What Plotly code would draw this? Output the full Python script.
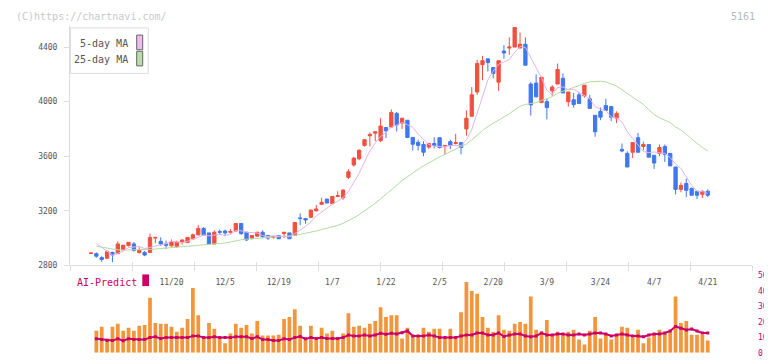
import plotly.graph_objects as go

# The page body has an 8px default margin, so the figure is drawn 8px in from the
# window's top-left corner; the figure is sized to fill the rest of the window.
PAGE_MARGIN = 8
WIN_W, WIN_H = 772, 361
W, H = WIN_W - PAGE_MARGIN, WIN_H - PAGE_MARGIN

# ---------------- data ----------------
opens = [2888, 2886, 2857, 2852, 2895, 2886, 2914, 2945, 2957, 2895,
         2895, 2895, 3000, 2976, 2957, 2943, 2938, 2971, 2967, 2995,
         3024, 3071, 3038, 2957, 3048, 3052, 3043, 3052, 3107, 3043,
         3000, 3014, 3043, 3019, 3005, 3019, 3033, 3038, 3019, 3148,
         3143, 3152, 3200, 3248, 3286, 3252, 3305, 3295, 3445, 3536,
         3581, 3679, 3750, 3769, 3714, 3810, 3814, 3914, 3843, 3864,
         3738, 3702, 3686, 3667, 3693, 3736, 3671, 3707, 3693, 3700,
         3800, 3893, 4071, 4271, 4314, 4250, 4143, 4371, 4393, 4400,
         4393, 4421, 4129, 4136, 3993, 4000, 4079, 4129, 4171, 4000,
         4014, 4050, 4043, 4021, 3900, 3929, 3971, 3964, 3879, 3650,
         3621, 3629, 3736, 3671, 3686, 3607, 3621, 3671, 3621, 3521,
         3357, 3400, 3364, 3343, 3321, 3343]
highs = [2891, 2895, 2867, 2910, 2900, 2976, 2948, 2969, 2971, 2933,
         2905, 3033, 3005, 3005, 2981, 2990, 2981, 2990, 3005, 3033,
         3095, 3081, 3038, 3057, 3062, 3062, 3067, 3107, 3107, 3043,
         3019, 3043, 3057, 3019, 3014, 3019, 3043, 3038, 3119, 3181,
         3148, 3210, 3243, 3295, 3286, 3305, 3343, 3357, 3505, 3595,
         3652, 3726, 3774, 3779, 3879, 3810, 3943, 3924, 3879, 3864,
         3738, 3721, 3710, 3693, 3738, 3736, 3679, 3721, 3764, 3700,
         3936, 4107, 4307, 4336, 4314, 4250, 4300, 4414, 4471, 4543,
         4507, 4471, 4143, 4200, 4179, 4021, 4121, 4279, 4207, 4071,
         4064, 4071, 4121, 4050, 3900, 3957, 4021, 3964, 3929, 3693,
         3636, 3700, 3771, 3707, 3686, 3607, 3686, 3686, 3621, 3521,
         3407, 3436, 3371, 3343, 3350, 3357]
lows = [2888, 2857, 2826, 2848, 2824, 2886, 2910, 2938, 2900, 2886,
        2867, 2895, 2962, 2943, 2919, 2938, 2929, 2952, 2967, 2986,
        3019, 3019, 2957, 2957, 3028, 3014, 3033, 3048, 3024, 2981,
        2990, 3010, 3000, 2986, 2995, 2995, 3000, 2995, 3019, 3095,
        3105, 3148, 3195, 3243, 3257, 3252, 3305, 3281, 3433, 3524,
        3571, 3671, 3671, 3710, 3705, 3733, 3810, 3781, 3800, 3733,
        3643, 3643, 3600, 3652, 3657, 3657, 3614, 3652, 3686, 3614,
        3750, 3893, 4050, 4157, 4221, 4171, 4079, 4314, 4343, 4400,
        4393, 4267, 3898, 4029, 3993, 3871, 4043, 4129, 4064, 3964,
        3957, 3986, 4029, 3950, 3743, 3864, 3936, 3857, 3843, 3629,
        3521, 3586, 3629, 3643, 3593, 3507, 3600, 3557, 3529, 3321,
        3336, 3300, 3314, 3286, 3293, 3300]
closes = [2891, 2867, 2843, 2900, 2876, 2957, 2948, 2969, 2910, 2910,
          2876, 3005, 3005, 2957, 2948, 2971, 2971, 2986, 3005, 3024,
          3071, 3024, 2957, 3043, 3043, 3038, 3048, 3107, 3033, 2986,
          3019, 3043, 3010, 3000, 3010, 2995, 3043, 2995, 3114, 3143,
          3133, 3205, 3214, 3262, 3257, 3305, 3310, 3352, 3486, 3586,
          3643, 3721, 3760, 3779, 3821, 3786, 3921, 3829, 3879, 3738,
          3688, 3679, 3629, 3693, 3679, 3664, 3679, 3679, 3700, 3664,
          3879, 4050, 4279, 4300, 4286, 4207, 4300, 4357, 4400, 4543,
          4421, 4267, 3976, 4036, 4179, 3957, 4107, 4236, 4064, 4071,
          3979, 3986, 4121, 3950, 3779, 3886, 3936, 3886, 3914, 3638,
          3521, 3700, 3629, 3686, 3593, 3550, 3664, 3614, 3529, 3357,
          3386, 3350, 3314, 3314, 3343, 3314]

# moving-average values before enough closes are on the chart
ma5_head = [2960, 2933, 2905]
ma25_head = [2940, 2933, 2926, 2919, 2914, 2912, 2912, 2912, 2913, 2915,
             2917, 2920, 2923, 2927, 2931, 2935, 2939, 2943, 2946, 2949,
             2952, 2954, 2956]

volume = [14.3, 16.8, 9.2, 16.8, 18.7, 14.3, 16.1, 14.3, 17.4, 18.0,
          35.6, 19.3, 18.7, 18.7, 16.8, 13.6, 16.1, 21.8, 41.9, 24.3,
          9.9, 19.3, 15.5, 9.9, 6.1, 12.4, 18.7, 16.1, 18.0, 12.4,
          20.5, 11.1, 11.1, 11.1, 11.7, 21.8, 23.1, 28.1, 17.4, 9.9,
          17.4, 9.9, 16.1, 12.4, 14.3, 9.9, 12.4, 25.6, 16.8, 17.4,
          16.1, 18.7, 20.5, 29.4, 23.1, 24.3, 24.3, 9.2, 16.1, 11.1,
          11.1, 16.1, 13.6, 15.5, 15.5, 9.2, 15.5, 9.2, 26.2, 45.7,
          40.0, 38.2, 23.1, 16.1, 13.6, 24.3, 14.9, 14.3, 18.7, 19.9,
          18.7, 36.3, 14.9, 13.6, 21.2, 11.7, 13.6, 12.4, 13.6, 14.9,
          8.6, 5.4, 14.3, 23.1, 9.2, 11.7, 8.6, 11.1, 16.8, 16.1,
          9.9, 14.9, 6.1, 9.9, 12.4, 14.9, 12.4, 13.6, 36.3, 19.3,
          20.5, 11.7, 11.7, 11.7, 8.0]
ai_predict = [9.0, 8.6, 8.0, 8.0, 9.0, 7.8, 9.0, 8.6, 8.6, 8.6,
              9.8, 10.3, 9.2, 9.8, 9.8, 9.8, 9.8, 9.8, 10.9, 10.9,
              9.8, 9.8, 10.3, 9.8, 9.8, 9.8, 10.3, 10.3, 10.3, 9.2,
              10.3, 8.6, 8.6, 8.0, 8.0, 9.0, 8.6, 9.8, 10.5, 9.0,
              9.8, 9.2, 9.8, 9.2, 9.2, 9.2, 9.8, 11.5, 10.9, 10.9,
              11.5, 10.9, 11.5, 12.6, 12.0, 12.6, 12.2, 13.0, 14.1, 10.9,
              10.9, 10.9, 11.5, 10.9, 9.8, 9.8, 9.8, 9.8, 10.9, 11.5,
              11.5, 12.8, 12.8, 11.5, 11.5, 12.8, 10.5, 11.5, 12.2, 12.2,
              10.9, 10.3, 10.9, 12.8, 11.5, 11.5, 12.2, 12.2, 11.5, 11.5,
              12.2, 11.5, 12.2, 12.8, 12.8, 12.2, 10.9, 11.5, 12.2, 11.5,
              10.9, 10.9, 10.3, 11.5, 12.2, 12.2, 12.8, 14.1, 17.0, 15.9,
              14.7, 15.3, 14.1, 12.8, 12.8]

date_labels = ["11/20", "12/5", "12/19", "1/7", "1/22", "2/5",
               "2/20", "3/9", "3/24", "4/7", "4/21"]
date_label_index = [15, 25, 35, 45, 55, 65, 75, 85, 95, 105, 115]
price_ticks = [2800, 3200, 3600, 4000, 4400]
ai_ticks = [0, 10, 20, 30, 40, 50]

# ---------------- derived ----------------
n = len(closes)
idx = list(range(n))
sub_idx = list(range(n - len(volume), n))


def moving_average(vals, k, head):
    start = k - 1 - len(head)
    xs, ys = [], []
    for i in range(start, len(vals)):
        xs.append(i)
        if i < k - 1:
            ys.append(head[i - start])
        else:
            ys.append(sum(vals[i - k + 1:i + 1]) / k)
    return xs, ys


ma5_x, ma5_y = moving_average(closes, 5, ma5_head)
ma25_x, ma25_y = moving_average(closes, 25, ma25_head)

# ---------------- layout helpers (window pixel -> paper) ----------------
def px(x):
    return (x - PAGE_MARGIN) / W


def py(y):
    return 1 - (y - PAGE_MARGIN) / H


PLOT_L, PLOT_R = 70, 752
MAIN_TOP, MAIN_BOT = 22, 268
SUB_TOP, SUB_BOT = 278.3, 357.7
FIRST_X, STEP = 91, 5.363
x_range = [(PLOT_L - FIRST_X) / STEP, (PLOT_R - FIRST_X) / STEP]
y_range = [2800, 2800 + (MAIN_BOT - MAIN_TOP) * 400 / 56]

FONT = "DejaVu Sans Mono"
RED = "#F2503F"
BLUE = "#3F78EE"
PINK = "#E6B2EA"
GREEN = "#B2DC9E"
CRIMSON = "#CC0066"
ORANGE = "#F2963E"
AXIS = "#dddddd"

fig = go.Figure()

fig.add_trace(go.Scatter(x=ma25_x, y=ma25_y, mode="lines",
                         line=dict(color=GREEN, width=1), hoverinfo="skip"))
fig.add_trace(go.Scatter(x=ma5_x, y=ma5_y, mode="lines",
                         line=dict(color=PINK, width=1), hoverinfo="skip"))
fig.add_trace(go.Candlestick(
    x=idx, open=opens, high=highs, low=lows, close=closes,
    increasing=dict(line=dict(color=RED, width=1), fillcolor=RED),
    decreasing=dict(line=dict(color=BLUE, width=1), fillcolor=BLUE),
    whiskerwidth=0,
))

fig.add_trace(go.Bar(x=sub_idx, y=volume, marker=dict(color=ORANGE, line=dict(width=0)),
                     width=0.7, xaxis="x2", yaxis="y2"))
fig.add_trace(go.Scatter(x=sub_idx, y=ai_predict, mode="lines+markers",
                         line=dict(color=CRIMSON, width=2),
                         marker=dict(color=CRIMSON, size=3, symbol="square"),
                         xaxis="x2", yaxis="y2"))

# empty traces so the tick-mark overlay axes are drawn
fig.add_trace(go.Scatter(x=[], y=[], xaxis="x3", yaxis="y"))
fig.add_trace(go.Scatter(x=[], y=[], xaxis="x4", yaxis="y"))

dom_x = [px(PLOT_L), px(PLOT_R)]
tick_common = dict(overlaying="x", anchor="y", domain=dom_x,
                   range=[-1e-6, 11 + 1e-6], tickmode="array", tickvals=list(range(12)),
                   showticklabels=False, showline=False, showgrid=False,
                   zeroline=False, tickcolor=AXIS, tickwidth=1)

fig.update_layout(
    width=W, height=H, margin=dict(l=0, r=0, t=0, b=0),
    paper_bgcolor="white", plot_bgcolor="white", showlegend=False,
    boxgap=0.12,
    font=dict(family=FONT, size=8, color="#555555"),
    xaxis=dict(domain=dom_x, range=x_range, anchor="y",
               rangeslider=dict(visible=False),
               tickmode="array", tickvals=date_label_index, ticktext=date_labels,
               ticks="", ticklabelstandoff=9,
               tickfont=dict(family=FONT, size=8, color="#555555"),
               showline=True, linecolor=AXIS, linewidth=1,
               showgrid=False, zeroline=False),
    yaxis=dict(domain=[py(MAIN_BOT), py(MAIN_TOP)], range=y_range, anchor="x",
               tickmode="array", tickvals=price_ticks,
               ticks="outside", ticklen=5, tickcolor=AXIS, ticklabelstandoff=5,
               tickfont=dict(family=FONT, size=8, color="#555555"),
               showline=True, linecolor=AXIS, linewidth=1,
               showgrid=False, zeroline=False),
    xaxis3=dict(ticks="outside", ticklen=5, **tick_common),
    xaxis4=dict(ticks="inside", ticklen=3, **tick_common),
    xaxis2=dict(domain=dom_x, range=x_range, anchor="y2", visible=False,
                showgrid=False, zeroline=False),
    yaxis2=dict(domain=[py(SUB_BOT), py(SUB_TOP)], range=[0, 50], anchor="x2",
                side="right", tickmode="array", tickvals=ai_ticks, ticks="",
                ticklabelstandoff=5,
                tickfont=dict(family=FONT, size=8, color=CRIMSON),
                showline=False, showgrid=False, zeroline=False),
)

shapes = [
    # legend box
    dict(type="rect", xref="paper", yref="paper", layer="above",
         x0=px(70.5), x1=px(148.3), y0=py(71), y1=py(24.3),
         fillcolor="white", line=dict(color="#dddddd", width=1)),
    dict(type="rect", xref="paper", yref="paper", layer="above",
         x0=px(136.7), x1=px(142.7), y0=py(46.7), y1=py(31.7),
         fillcolor="#EEBBEE", line=dict(color="#666666", width=1)),
    dict(type="rect", xref="paper", yref="paper", layer="above",
         x0=px(136.7), x1=px(142.7), y0=py(63.3), y1=py(48.3),
         fillcolor="#BBDDAA", line=dict(color="#666666", width=1)),
    # AI-Predict swatch
    dict(type="rect", xref="paper", yref="paper", layer="above",
         x0=px(142.3), x1=px(149), y0=py(289.3), y1=py(277.3),
         fillcolor=CRIMSON, line=dict(width=0)),
]

annotations = [
    dict(text="(C)https://chartnavi.com/", x=px(14), y=py(12.6), xanchor="left",
         yanchor="middle", font=dict(family=FONT, size=10, color="#c8c8c8")),
    dict(text="5161", x=px(757), y=py(12.6), xanchor="right", yanchor="middle",
         font=dict(family=FONT, size=10, color="#b8b8b8")),
    dict(text="5-day MA", x=px(130), y=py(40.5), xanchor="right", yanchor="middle",
         font=dict(family=FONT, size=10, color="#555555")),
    dict(text="25-day MA", x=px(130), y=py(56.7), xanchor="right", yanchor="middle",
         font=dict(family=FONT, size=10, color="#555555")),
    dict(text="AI-Predict", x=px(75), y=py(285.8), xanchor="left", yanchor="middle",
         font=dict(family=FONT, size=10, color=CRIMSON)),
]
for a in annotations:
    a.update(xref="paper", yref="paper", showarrow=False)

fig.update_layout(shapes=shapes, annotations=annotations)

fig.write_html("out.html")
